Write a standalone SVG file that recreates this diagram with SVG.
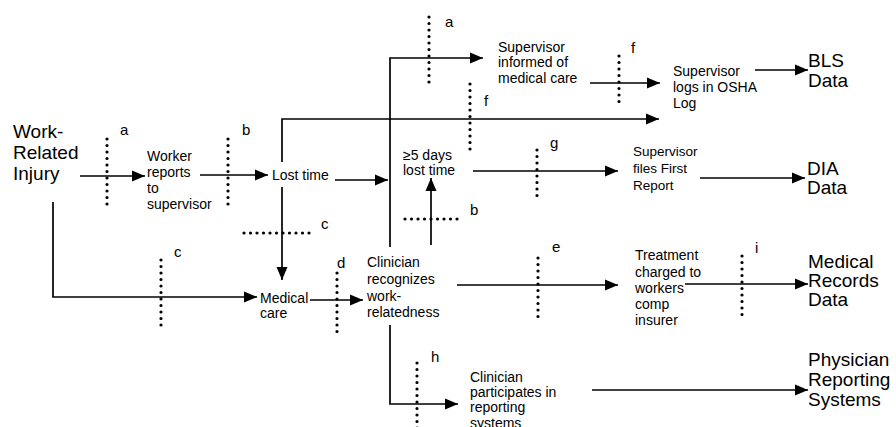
<svg xmlns="http://www.w3.org/2000/svg" width="896" height="427" viewBox="0 0 896 427">
<defs>
<marker id="ah" markerUnits="userSpaceOnUse" markerWidth="14" markerHeight="12" refX="13" refY="6" orient="auto">
<path d="M0,0.5 L13,6 L0,11.5 z" fill="#000"/>
</marker>
<style>
.t{font-family:"Liberation Sans",Arial,sans-serif;fill:#000}
.s{font-size:14px}
.b{font-size:19px}
.l{font-size:15px}
.c{fill:none;stroke:#000;stroke-width:1.7}
.a{marker-end:url(#ah)}
.d{fill:none;stroke:#000;stroke-width:3.2;stroke-linecap:round;stroke-dasharray:0 6.5}
</style>
</defs>
<rect width="896" height="427" fill="#fff"/>

<g id="connectors">
<path class="c a" d="M80,176 H145"/>
<path class="c a" d="M200,175 H268"/>
<path class="c a" d="M335,180 H388"/>
<path class="c a" d="M282,162 V119 H659"/>
<path class="c a" d="M282,187 V280"/>
<path class="c a" d="M53,202 V297 H257"/>
<path class="c a" d="M310,300 H363"/>
<path class="c a" d="M390,247 V58 H483"/>
<path class="c a" d="M431,245 V178"/>
<path class="c a" d="M473,171 H618"/>
<path class="c a" d="M590,83 H660"/>
<path class="c a" d="M755,70 H808"/>
<path class="c a" d="M700,178 H805"/>
<path class="c a" d="M457,285 H618"/>
<path class="c a" d="M685,284 H808"/>
<path class="c a" d="M390,325 V404 H458"/>
<path class="c a" d="M592,390 H808"/>
</g>

<g id="barriers">
<g id="bar-a1"><path class="d" d="M107,139 V206"/><text class="t l" x="120" y="135">a</text></g>
<g id="bar-b1"><path class="d" d="M228,139 V206"/><text class="t l" x="242" y="135">b</text></g>
<g id="bar-c1"><path class="d" d="M244,233 H311"/><text class="t l" x="321" y="229">c</text></g>
<g id="bar-c2"><path class="d" d="M161,260 V326"/><text class="t l" x="174" y="257">c</text></g>
<g id="bar-d"><path class="d" d="M337,273 V338"/><text class="t l" x="337" y="268">d</text></g>
<g id="bar-a2"><path class="d" d="M429,17 V83"/><text class="t l" x="445" y="27">a</text></g>
<g id="bar-f1"><path class="d" d="M470,84 V150"/><text class="t l" x="484" y="106">f</text></g>
<g id="bar-f2"><path class="d" d="M619,56 V108"/><text class="t l" x="631" y="53">f</text></g>
<g id="bar-b2"><path class="d" d="M405,219 H458"/><text class="t l" x="470" y="215">b</text></g>
<g id="bar-g"><path class="d" d="M537,150 V202"/><text class="t l" x="550" y="148">g</text></g>
<g id="bar-e"><path class="d" d="M538,258 V323"/><text class="t l" x="552" y="252">e</text></g>
<g id="bar-i"><path class="d" d="M742,256 V315"/><text class="t l" x="755" y="253">i</text></g>
<g id="bar-h"><path class="d" d="M417,363 V430"/><text class="t l" x="431" y="362">h</text></g>
</g>

<g id="injury"><text class="t b" x="13"><tspan x="13" y="138">Work-</tspan><tspan x="13" y="159">Related</tspan><tspan x="13" y="180">Injury</tspan></text></g>
<g id="worker-reports"><text class="t s" x="147"><tspan x="147" y="161">Worker</tspan><tspan x="147" y="177">reports</tspan><tspan x="147" y="193">to</tspan><tspan x="147" y="209">supervisor</tspan></text></g>
<g id="lost-time"><text class="t s" x="272" y="180">Lost time</text></g>
<g id="medical-care"><text class="t s" x="260"><tspan x="260" y="303">Medical</tspan><tspan x="260" y="318">care</tspan></text></g>
<g id="clinician-recognizes"><text class="t s" x="367"><tspan x="367" y="267">Clinician</tspan><tspan x="367" y="284">recognizes</tspan><tspan x="367" y="301">work-</tspan><tspan x="367" y="317">relatedness</tspan></text></g>
<g id="five-days"><text class="t s" x="403"><tspan x="403" y="160">≥5 days</tspan><tspan x="403" y="175">lost time</tspan></text></g>
<g id="sup-informed"><text class="t s" x="498"><tspan x="498" y="52">Supervisor</tspan><tspan x="498" y="67">informed of</tspan><tspan x="498" y="83">medical care</tspan></text></g>
<g id="sup-logs"><text class="t s" x="673"><tspan x="673" y="76">Supervisor</tspan><tspan x="673" y="92">logs in OSHA</tspan><tspan x="673" y="108">Log</tspan></text></g>
<g id="bls"><text class="t b" x="808"><tspan x="808" y="67">BLS</tspan><tspan x="808" y="87">Data</tspan></text></g>
<g id="sup-files"><text class="t" style="font-size:13.5px" x="633"><tspan x="633" y="156">Supervisor</tspan><tspan x="633" y="173">files First</tspan><tspan x="633" y="190">Report</tspan></text></g>
<g id="dia"><text class="t b" x="807"><tspan x="807" y="175">DIA</tspan><tspan x="807" y="194">Data</tspan></text></g>
<g id="treatment"><text class="t s" x="635"><tspan x="635" y="260">Treatment</tspan><tspan x="635" y="277">charged to</tspan><tspan x="635" y="293">workers</tspan><tspan x="635" y="309">comp</tspan><tspan x="635" y="325">insurer</tspan></text></g>
<g id="medical-records"><text class="t b" x="808"><tspan x="808" y="268">Medical</tspan><tspan x="808" y="287">Records</tspan><tspan x="808" y="306">Data</tspan></text></g>
<g id="clinician-participates"><text class="t s" x="470"><tspan x="470" y="382">Clinician</tspan><tspan x="470" y="397">participates in</tspan><tspan x="470" y="412">reporting</tspan><tspan x="470" y="428">systems</tspan></text></g>
<g id="physician"><text class="t b" x="808"><tspan x="808" y="366">Physician</tspan><tspan x="808" y="386">Reporting</tspan><tspan x="808" y="406">Systems</tspan></text></g>
</svg>
